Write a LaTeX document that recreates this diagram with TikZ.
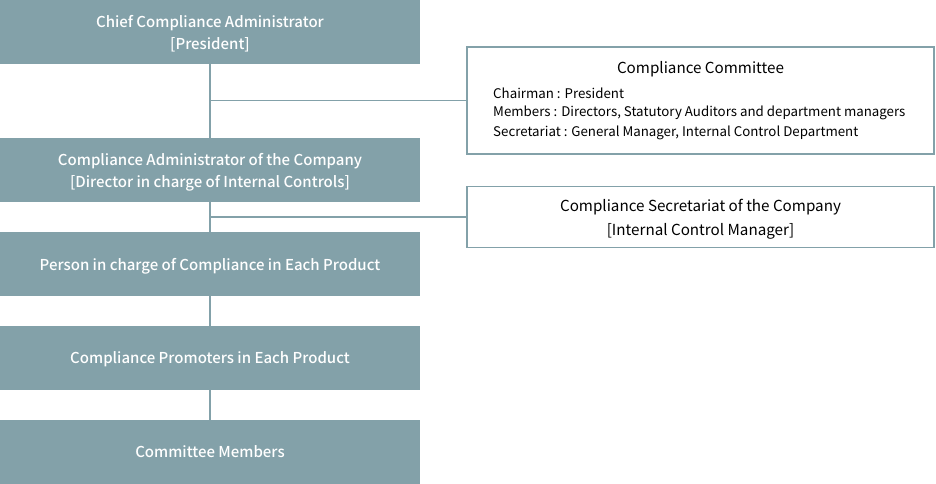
\documentclass[tikz,border=0pt]{standalone}
\usepackage{fontspec}
\setmainfont{Noto Sans CJK JP}
\newfontfamily\medfont{Noto Sans CJK JP Medium}
\usepackage{xcolor}
\usetikzlibrary{positioning}
\definecolor{slate}{HTML}{83A1A9}

\begin{document}
\begin{tikzpicture}[
  x=1pt, y=-1pt,
  role/.style   = {fill=slate, text=white, minimum width=420pt,
                   minimum height=64pt, inner sep=0pt, align=center,
                   text depth=0pt, font=\medfont\fontsize{15}{22}\selectfont},
  panel/.style  = {draw=slate, line width=1.6pt, fill=white,
                   minimum width=467pt, inner sep=0pt, align=center,
                   text depth=0pt, font=\fontsize{15.2}{24}\selectfont},
  item/.style   = {anchor=west, inner sep=0pt, font=\fontsize{13.3}{16}\selectfont},
  link/.style   = {draw=slate, line width=1.6pt},
]
\useasboundingbox (0,0) rectangle (936,484);

%% Chain of roles on the left
\node[role] (chief)  at (210, 32)  {Chief Compliance Administrator\\{}[President]};
\node[role] (admin)  at (210, 170) {Compliance Administrator of the Company\\{}[Director in charge of Internal Controls]};
\node[role] (person) at (210, 264) {Person in charge of Compliance in Each Product};
\node[role] (promo)  at (210, 358) {Compliance Promoters in Each Product};
\node[role] (member) at (210, 452) {Committee Members};

%% Panels on the right
\node[panel, minimum height=107pt] (cttee) at (700.5, 100.5) {};
\node[panel, minimum height=61pt]  (secr)  at (700.5, 217)
      {Compliance Secretariat of the Company\\{}[Internal Control Manager]};

\node[font=\fontsize{15.2}{18}\selectfont] (cttl) at (700.5, 69) {Compliance Committee};
\node[item] (chair) at (493, 93)  {Chairman : President};
\node[item] (membs) at (493, 113) {Members : Directors, Statutory Auditors and department managers};
\node[item] (secy)  at (493, 133) {Secretariat : General Manager, Internal Control Department};

%% Vertical trunk
\draw[link] (chief.south) -- (admin.north);
\draw[link] (admin.south) -- (person.north);
\draw[link] (person.south) -- (promo.north);
\draw[link] (promo.south) -- (member.north);

%% Branches to the panels
\coordinate (j1) at (210, 100.5);
\coordinate (j2) at (210, 217);
\draw[link] (j1) -- (j1 -| cttee.west);
\draw[link] (j2) -- (j2 -| secr.west);

\end{tikzpicture}
\end{document}
